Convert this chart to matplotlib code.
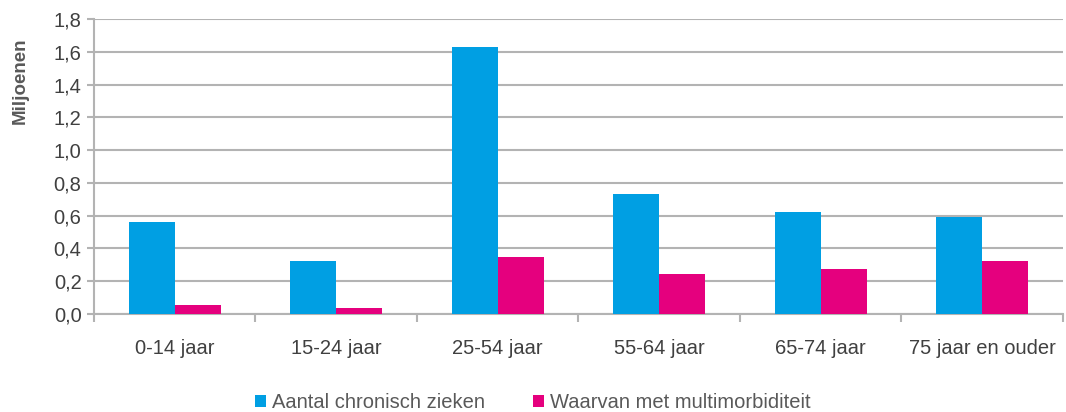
import numpy as np
import matplotlib
matplotlib.use("Agg")
import matplotlib.pyplot as plt

categories = ["0-14 jaar", "15-24 jaar", "25-54 jaar", "55-64 jaar", "65-74 jaar", "75 jaar en ouder"]
chronisch = [0.56, 0.323, 1.628, 0.733, 0.624, 0.59]
multimorbiditeit = [0.055, 0.037, 0.348, 0.242, 0.274, 0.323]
series_names = ["Aantal chronisch zieken", "Waarvan met multimorbiditeit"]
yticks = [0.0, 0.2, 0.4, 0.6, 0.8, 1.0, 1.2, 1.4, 1.6, 1.8]

plt.rcParams['font.family'] = ['Liberation Sans', 'DejaVu Sans']

fig = plt.figure(figsize=(10.66, 4.12), dpi=100)
ax = fig.add_axes([0.0882, 0.238, 0.9088, 0.716])

x = np.arange(len(categories))
w = 0.285
ax.bar(x - w / 2, chronisch, w, color="#009FE3", label=series_names[0], zorder=3)
ax.bar(x + w / 2, multimorbiditeit, w, color="#E5007E", label=series_names[1], zorder=3)

ax.set_xlim(-0.5, len(categories) - 0.5)
ax.set_ylim(0, 1.8)
ax.set_yticks(yticks)
ax.set_yticklabels([("%.1f" % v).replace(".", ",") for v in yticks])
ax.yaxis.grid(True, color="#b3b3b3", linewidth=1.5, zorder=0)

# category labels centered, ticks on category borders
ax.set_xticks(np.arange(len(categories) + 1) - 0.5)
ax.set_xticklabels([])
ax.set_xticks(x, minor=True)
ax.set_xticklabels(categories, minor=True)
ax.tick_params(axis="x", which="major", length=6, width=1.5, color="#b3b3b3")
ax.tick_params(axis="x", which="minor", length=0, pad=18, labelsize=14.5, labelcolor="#404040")
ax.tick_params(axis="y", length=5, width=1.5, color="#b3b3b3", labelsize=14.5, labelcolor="#404040", pad=4)

for s in ["top", "right"]:
    ax.spines[s].set_visible(False)
ax.spines["left"].set_color("#b3b3b3")
ax.spines["left"].set_linewidth(1.5)
ax.spines["bottom"].set_color("#b3b3b3")
ax.spines["bottom"].set_linewidth(1.5)

ax.set_ylabel("Miljoenen", fontsize=13.5, fontweight="bold", color="#595959")
ax.yaxis.set_label_coords(-0.067, 0.79)

leg = fig.legend(loc="lower center", bbox_to_anchor=(0.5, -0.045), ncol=2, frameon=False,
                 fontsize=14.5, handlelength=0.55, handleheight=0.55, handletextpad=0.3,
                 columnspacing=2.4)
for t in leg.get_texts():
    t.set_color("#595959")

fig.savefig("out.png", dpi=100)
